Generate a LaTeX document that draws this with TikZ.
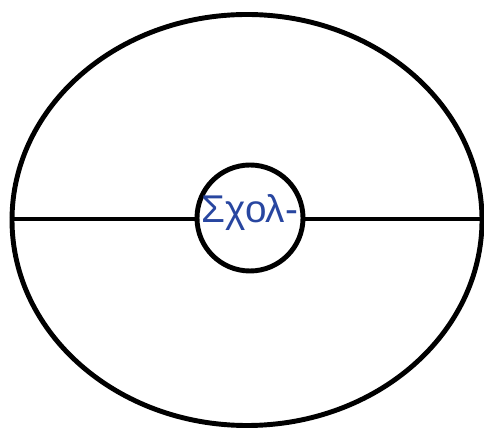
\documentclass[tikz,border=0pt]{standalone}
\usepackage{fontspec}
\setmainfont{Liberation Sans}
\usetikzlibrary{shapes.geometric}
\definecolor{textblue}{RGB}{40,70,160}

\begin{document}
\begin{tikzpicture}[line width=2.8pt, rim/.style={draw, ellipse, inner sep=0pt, minimum width=9.4cm, minimum height=8.22cm}, hub/.style={draw, circle, inner sep=0pt, minimum size=2.12cm}, lab/.style={text=textblue, font=\fontsize{22}{24}\selectfont, inner sep=0pt}]
	\useasboundingbox (0,0) rectangle (9.68,8.58);
	\node[rim] (outer) at (4.94,4.18) {};
	\node[hub] (inner) at (5.0,4.22) {};
	\draw (outer.west |- 0,4.2) -- (inner.west |- 0,4.2);
	\draw (inner.east |- 0,4.2) -- (outer.east |- 0,4.2);
	\node[lab, anchor=base] (word) at (5.0,4.12) {Σχολ-};
\end{tikzpicture}
\end{document}
